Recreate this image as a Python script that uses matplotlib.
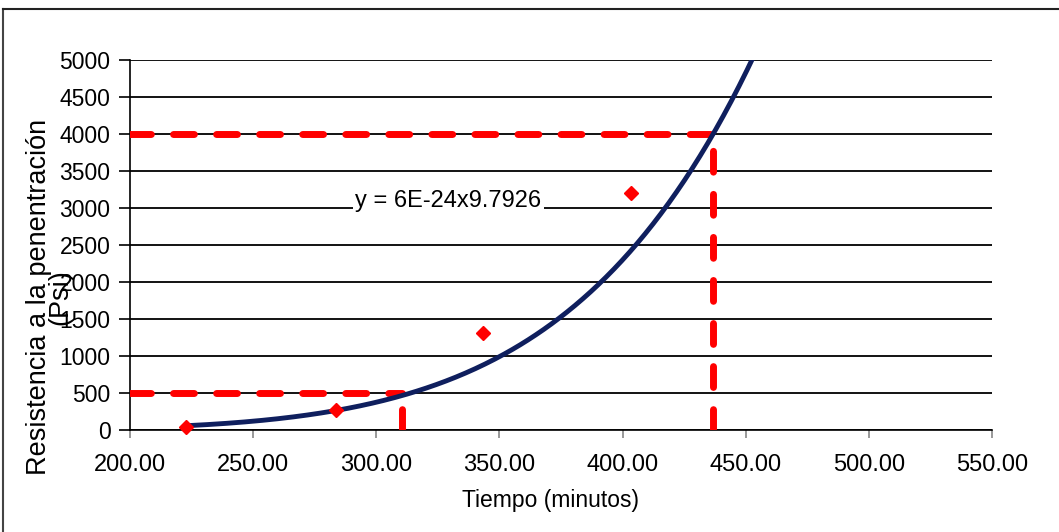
import numpy as np
import matplotlib.pyplot as plt
from matplotlib.lines import Line2D

plt.rcParams['font.family'] = ['Liberation Sans', 'DejaVu Sans']

# measured points
tiempo = [222.7, 283.7, 343.4, 403.5]
resistencia = [40, 270, 1311, 3203]

# trend curve as drawn (power law)
TREND_A = 9.3e-14
TREND_B = 6.3
trend_x0, trend_x1 = 222.7, 460

# reading lines
lim_bajo = 500
t_bajo = 310.4
lim_alto = 4000
t_alto = 436.7

eq_text = "y = 6E-24x9.7926"

fig = plt.figure(figsize=(10.59, 5.32), dpi=100)
ax = fig.add_axes([130/1059, 1-430/532, (992-130)/1059, (430-60)/532])

ax.set_xlim(200, 550)
ax.set_ylim(0, 5000)
ax.set_xticks(np.arange(200, 551, 50))
ax.set_yticks(np.arange(0, 5001, 500))
ax.set_xticklabels([f"{v:.2f}" for v in np.arange(200, 551, 50)])
ax.grid(axis='y', color='black', lw=1.3)
ax.set_axisbelow(True)
for s in ['top', 'right']:
    ax.spines[s].set_visible(False)
ax.spines['left'].set_linewidth(1.2)
ax.spines['bottom'].set_linewidth(1.2)
ax.tick_params(axis='y', length=8, width=1.2, labelsize=16.5, pad=6)
ax.tick_params(axis='x', length=6, width=1.2, color='#888888', labelsize=17, pad=11)

dash = dict(color='#ff0000', lw=5, dashes=(3.0, 3.2), dash_capstyle='round', zorder=3)
ax.plot([200, t_bajo], [lim_bajo, lim_bajo], **dash)
ax.plot([t_bajo, t_bajo], [0, lim_bajo], **dash)
ax.plot([200, t_alto], [lim_alto, lim_alto], **dash)
ax.plot([t_alto, t_alto], [0, lim_alto], **dash)

xs = np.linspace(trend_x0, trend_x1, 300)
ax.plot(xs, TREND_A * xs ** TREND_B, color='#0f1f5e', lw=3.5, zorder=4)

ax.plot(tiempo, resistencia, 'D', color='#ff0000', ms=7, zorder=5, clip_on=False)

ax.text(291.5, 3100, eq_text, fontsize=17, va='center', ha='left',
        bbox=dict(facecolor='white', edgecolor='none', pad=2), zorder=2)

fig.text(550/1059, 1-500/532, "Tiempo (minutos)", fontsize=16.5, ha='center', va='center')
fig.text(50/1059, 1-297/532, "Resistencia a la penentración\n(Psi)", rotation=90,
         fontsize=19.5, ha='center', va='center', linespacing=0.75)

# frame of the screenshot
fig.add_artist(Line2D([3/1059, 3/1059], [0, 1-9/532], color='#444444', lw=1.5))
fig.add_artist(Line2D([3/1059, 1], [1-9/532, 1-9/532], color='#222222', lw=1.5))

fig.savefig("out.png", dpi=100)
